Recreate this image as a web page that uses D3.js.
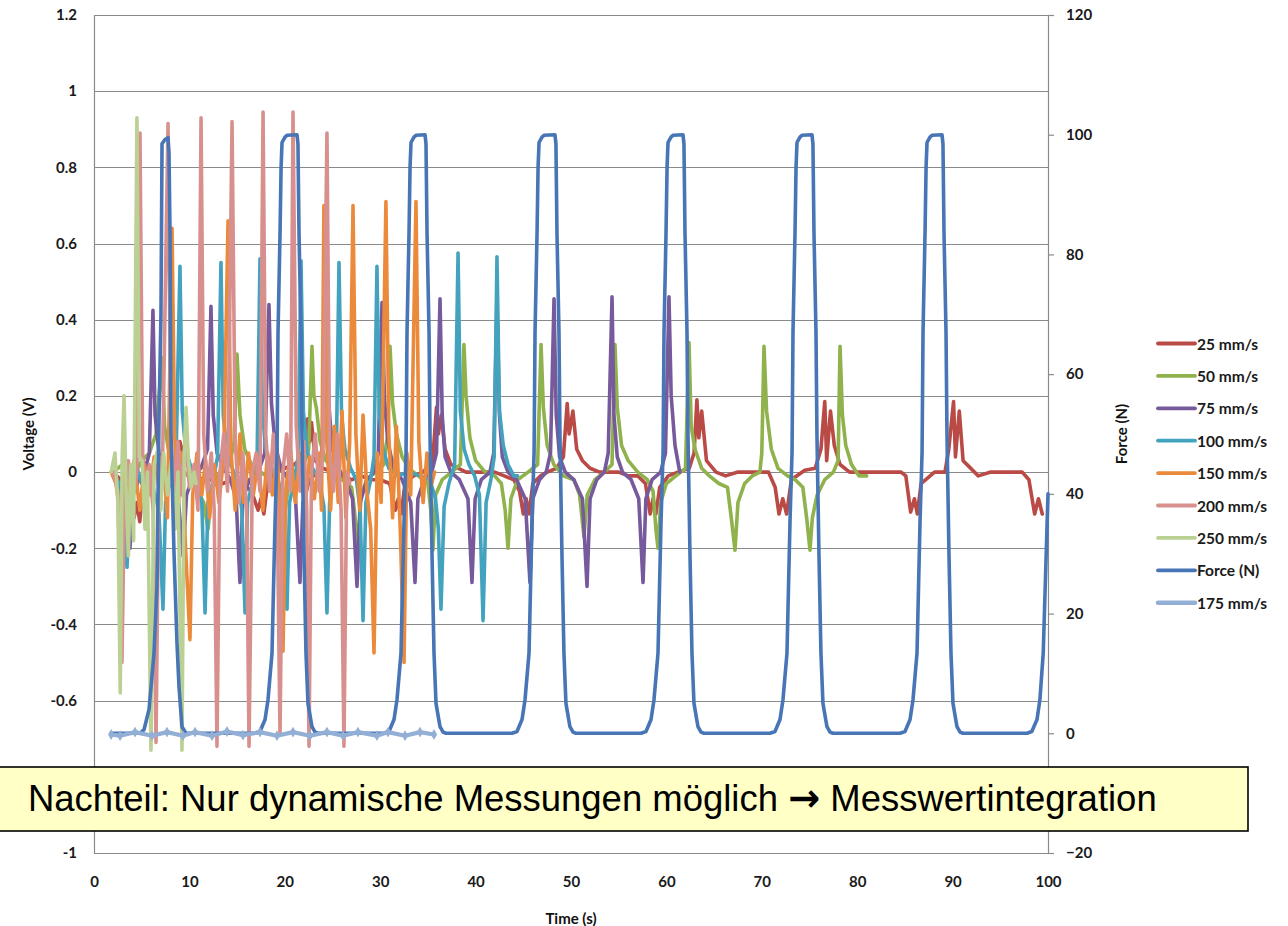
<!DOCTYPE html>
<html>
<head>
<meta charset="utf-8">
<script src="https://cdn.jsdelivr.net/npm/d3@7"></script>
<style>
  html, body { margin: 0; padding: 0; background: #ffffff; }
  svg { display: block; }
</style>
</head>
<body>
<svg id="chart" width="1288" height="926"></svg>
<script>
// ---------------- DATA ----------------
const voltTicks = [-1, -0.8, -0.6, -0.4, -0.2, 0, 0.2, 0.4, 0.6, 0.8, 1, 1.2];
const hiddenVoltLabels = [-0.8]; // covered by the annotation box in the original
const forceTicks = [-20, 0, 20, 40, 60, 80, 100, 120];
const timeTicks = [0, 10, 20, 30, 40, 50, 60, 70, 80, 90, 100];

const seriesNames = ["25 mm/s", "50 mm/s", "75 mm/s", "100 mm/s", "150 mm/s", "200 mm/s", "250 mm/s", "Force (N)", "175 mm/s"];

// [time (s), voltage (V)]
const s25 = [[2.0,0],[2.8,-0.02],[3.5,-0.05],[4.2,-0.12],[4.5,-0.08],[4.8,-0.13],[5.2,-0.02],[6,0],[7,0.02],[8,-0.02],[8.6,0.03],[9.0,0.08],[9.3,0.05],[9.8,0.02],[10.5,-0.01],[11.5,-0.02],[12.5,-0.02],[13.5,-0.03],[14.5,-0.02],[15.5,-0.03],[16.5,-0.05],[17.2,-0.1],[17.5,-0.07],[17.8,-0.11],[18.2,-0.03],[19,0],[20,0.01],[21,0.02],[22,0.04],[22.4,0.14],[22.6,0.08],[22.8,0.13],[23.2,0.03],[24,0.01],[25,0],[26,-0.01],[27,-0.02],[28,-0.01],[29,-0.02],[30,-0.02],[31,-0.03],[31.6,-0.1],[31.9,-0.07],[32.2,-0.11],[32.6,-0.03],[33.5,-0.01],[34.5,0],[35.5,0.03],[35.9,0.17],[36.1,0.10],[36.4,0.15],[36.8,0.06],[37.4,0.02],[38.2,0.01],[39,0],[40,0],[41,0],[42,0],[43,-0.01],[44,-0.02],[44.6,-0.05],[45,-0.11],[45.3,-0.07],[45.6,-0.11],[46,-0.03],[46.8,-0.01],[47.5,0],[48.5,0.01],[49.2,0.04],[49.6,0.18],[49.8,0.10],[50.2,0.16],[50.6,0.06],[51.2,0.03],[52,0.01],[53,0],[54,0],[55,0],[56,-0.01],[57,-0.01],[57.8,-0.03],[58.3,-0.11],[58.6,-0.07],[58.9,-0.11],[59.3,-0.04],[60.2,-0.01],[61.2,0],[62.4,0.01],[62.9,0.05],[63.2,0.19],[63.4,0.09],[63.7,0.16],[64.2,0.03],[65.2,0],[66.2,-0.01],[67.5,0],[68.5,0],[69.5,0],[70.7,0],[71.4,-0.04],[71.8,-0.11],[72.2,-0.07],[72.6,-0.11],[73.1,-0.02],[74.5,0.005],[75.6,0.01],[76.2,0.06],[76.6,0.185],[76.8,0.03],[77.2,0.16],[77.6,0.07],[78.2,0.02],[79.2,0],[81,0],[83,0],[84.6,0],[85.1,-0.01],[85.6,-0.105],[86.0,-0.07],[86.3,-0.11],[86.7,-0.03],[88.1,0],[89.2,0],[89.6,0.06],[90.1,0.185],[90.3,0.04],[90.7,0.16],[91.1,0.03],[91.7,0.015],[92.7,-0.01],[94,0],[96,0],[97.3,0],[98,-0.02],[98.6,-0.11],[99.0,-0.07],[99.4,-0.11]];

const s50 = [[2,0],[3,0.02],[4,-0.02],[5,0.03],[5.8,0.05],[6.5,0.1],[7.13,0.30],[7.4,0.12],[7.8,0.06],[8.5,0.02],[9.5,0],[10.5,-0.03],[11.5,-0.08],[11.95,-0.15],[12.4,-0.04],[13.2,0],[14.2,0.02],[14.7,0.08],[14.99,0.31],[15.3,0.15],[15.8,0.06],[16.5,0.02],[17.5,0],[18.5,-0.02],[19.3,-0.06],[19.8,-0.15],[20.3,-0.05],[21,0],[22,0.02],[22.5,0.06],[22.85,0.33],[23.05,0.2],[23.3,0.17],[23.7,0.08],[24.3,0.03],[25,0.01],[26,-0.02],[27,-0.04],[27.3,-0.1],[27.67,-0.2],[28,-0.06],[28.6,-0.02],[29.5,0],[30.4,0.02],[30.8,0.1],[31.03,0.33],[31.3,0.18],[31.7,0.1],[32.3,0.04],[33,0.01],[34,-0.01],[35,-0.03],[35.3,-0.1],[35.53,-0.205],[35.8,-0.06],[36.5,-0.02],[37.5,0],[38.4,0.02],[38.78,0.335],[39.0,0.2],[39.4,0.09],[40,0.03],[41,0],[42,-0.01],[42.7,-0.03],[43.1,-0.1],[43.4,-0.2],[43.7,-0.07],[44.4,-0.02],[45.5,0],[46.5,0.02],[46.86,0.335],[47.1,0.17],[47.5,0.07],[48.2,0.02],[49.2,-0.01],[50.3,-0.02],[50.9,-0.06],[51.36,-0.17],[51.7,-0.06],[52.5,-0.02],[53.5,0],[54.3,0.02],[54.61,0.335],[54.85,0.17],[55.3,0.07],[56,0.03],[57,0],[58,-0.02],[58.6,-0.05],[58.9,-0.15],[59.12,-0.2],[59.4,-0.08],[60,-0.03],[61,-0.01],[62,0.01],[62.37,0.34],[62.6,0.12],[63,0.06],[63.7,0.01],[64.5,-0.01],[65.5,-0.03],[66.4,-0.04],[66.8,-0.12],[67.19,-0.205],[67.5,-0.08],[68.2,-0.03],[69,-0.01],[69.8,0],[70.0,0.05],[70.23,0.33],[70.5,0.16],[71,0.06],[71.7,0.01],[72.7,-0.01],[73.5,-0.02],[74.3,-0.04],[74.7,-0.12],[75.05,-0.205],[75.3,-0.12],[75.8,-0.06],[76.6,-0.02],[77.5,0],[78.0,0.03],[78.2,0.33],[78.45,0.15],[78.8,0.07],[79.4,0.02],[80.2,-0.01],[81,-0.01]];

const s75 = [[2.0,0],[2.6,-0.04],[3.2,-0.06],[3.77,-0.2],[4.1,-0.06],[4.7,-0.02],[5.3,0],[5.8,0.05],[6.18,0.425],[6.4,0.15],[6.8,0.05],[7.4,0.01],[8.2,-0.02],[8.8,-0.06],[9.33,-0.22],[9.7,-0.06],[10.4,-0.01],[11.2,0.01],[11.9,0.06],[12.26,0.435],[12.5,0.15],[12.9,0.05],[13.6,0.01],[14.3,-0.02],[14.9,-0.07],[15.3,-0.29],[15.6,-0.07],[16.3,-0.02],[17.2,0],[17.9,0.05],[18.34,0.44],[18.6,0.18],[19,0.07],[19.6,0.01],[20.4,-0.02],[21.1,-0.06],[21.59,-0.29],[21.9,-0.08],[22.6,-0.02],[23.4,0],[23.9,0.05],[24.32,0.44],[24.6,0.18],[25,0.06],[25.6,0.01],[26.4,-0.02],[27.1,-0.07],[27.57,-0.3],[27.9,-0.08],[28.6,-0.02],[29.4,0],[29.8,0.05],[30.19,0.445],[30.45,0.19],[30.8,0.08],[31.4,0.01],[32.3,-0.02],[33.2,-0.08],[33.65,-0.29],[33.95,-0.07],[34.6,-0.02],[35.4,0],[35.9,0.05],[36.27,0.455],[36.5,0.15],[36.8,0.04],[37.4,0.0],[38.3,-0.02],[39.2,-0.07],[39.62,-0.29],[39.95,-0.07],[40.6,-0.02],[41.5,0],[41.9,0.05],[42.24,0.45],[42.5,0.15],[42.8,0.04],[43.4,0.0],[44.3,-0.02],[45.2,-0.07],[45.7,-0.29],[46,-0.07],[46.7,-0.02],[47.4,0],[47.85,0.05],[48.22,0.455],[48.45,0.15],[48.8,0.04],[49.4,0.0],[50.3,-0.02],[51.2,-0.07],[51.68,-0.3],[52,-0.07],[52.7,-0.02],[53.5,0],[53.9,0.05],[54.3,0.46],[54.5,0.15],[54.85,0.04],[55.4,0.0],[56.3,-0.02],[57.1,-0.07],[57.55,-0.29],[57.85,-0.07],[58.5,-0.02],[59.4,0],[59.9,0.05],[60.27,0.46],[60.5,0.2],[60.9,0.07],[61.4,0.0]];

const s100 = [[2.0,0],[2.6,-0.03],[3.0,-0.08],[3.46,-0.25],[3.8,-0.05],[4.4,0.02],[5.0,-0.03],[5.6,0.0],[6.2,-0.04],[6.8,-0.1],[7.23,-0.36],[7.5,-0.08],[8.0,-0.02],[8.6,0.03],[9.01,0.54],[9.25,0.16],[9.6,0.06],[10.2,0.01],[10.8,-0.02],[11.3,-0.08],[11.64,-0.37],[11.95,-0.08],[12.5,-0.02],[12.95,0.04],[13.31,0.55],[13.55,0.15],[13.9,0.06],[14.5,0.01],[15.1,-0.03],[15.5,-0.1],[15.83,-0.37],[16.1,-0.08],[16.7,-0.02],[17.1,0.04],[17.4,0.56],[17.65,0.16],[18.0,0.06],[18.6,0.01],[19.3,-0.02],[19.9,-0.09],[20.23,-0.36],[20.5,-0.08],[21.0,-0.02],[21.4,0.04],[21.7,0.555],[21.95,0.16],[22.3,0.06],[22.9,0.01],[23.6,-0.02],[24.1,-0.09],[24.42,-0.37],[24.7,-0.08],[25.1,-0.02],[25.4,0.04],[25.68,0.55],[25.95,0.15],[26.3,0.06],[26.9,0.01],[27.5,-0.02],[27.9,-0.1],[28.2,-0.39],[28.5,-0.08],[29.0,-0.02],[29.35,0.04],[29.66,0.54],[29.9,0.16],[30.3,0.06],[30.9,0.01],[31.8,-0.01],[33.0,0],[34.2,-0.01],[35.2,-0.02],[35.8,-0.07],[36.1,-0.15],[36.37,-0.36],[36.7,-0.09],[37.2,-0.03],[37.8,0.02],[38.16,0.575],[38.4,0.16],[38.8,0.06],[39.3,0.02],[39.9,-0.01],[40.4,-0.06],[40.78,-0.39],[41.1,-0.08],[41.6,-0.02],[41.95,0.04],[42.24,0.565],[42.5,0.16],[42.9,0.07],[43.4,0.02],[44.0,-0.01],[44.4,-0.01]];

const s150 = [[1.8,0],[2.3,-0.03],[2.8,-0.12],[3.2,0.02],[3.7,-0.06],[4.2,0.03],[4.8,-0.1],[5.3,0.02],[5.8,-0.06],[6.3,0.04],[6.8,-0.04],[7.3,0.02],[7.7,-0.12],[8.18,0.64],[8.45,0.1],[8.8,-0.1],[9.2,0.05],[9.6,-0.2],[10.06,-0.44],[10.35,-0.06],[10.8,0.05],[11.3,-0.06],[11.7,0.03],[12.1,-0.12],[12.6,0.02],[13.1,-0.08],[13.6,0.04],[14.05,0.66],[14.35,0.06],[14.8,-0.1],[15.3,0.1],[15.7,-0.08],[16.2,0.05],[16.7,-0.06],[17.2,0.03],[17.7,-0.1],[18.2,0.05],[18.7,-0.06],[19.2,0.06],[19.5,-0.12],[19.81,-0.47],[20.1,-0.05],[20.6,0.06],[21.1,-0.08],[21.6,0.05],[22.1,-0.1],[22.6,0.04],[23.1,-0.07],[23.6,0.05],[23.85,-0.1],[24.1,0.70],[24.4,0.08],[24.8,-0.1],[25.2,0.12],[25.6,-0.08],[26.0,0.16],[26.4,-0.12],[26.8,0.08],[27.15,0.70],[27.45,0.1],[27.85,-0.1],[28.2,0.15],[28.6,-0.05],[29.0,-0.15],[29.35,-0.475],[29.7,0.05],[30.1,-0.08],[30.6,0.71],[30.9,0.1],[31.3,-0.12],[31.7,0.12],[32.1,-0.15],[32.5,-0.50],[32.8,0.05],[33.2,-0.06],[33.75,0.71],[34.05,0.08],[34.5,-0.08],[34.9,0.05],[35.3,-0.04],[35.7,0.0]];

const s200 = [[2.0,0],[2.5,-0.05],[2.93,-0.5],[3.2,-0.05],[3.6,0.03],[4.0,-0.08],[4.5,0.0],[4.82,0.89],[5.1,0.05],[5.4,-0.08],[5.8,0.02],[6.2,-0.1],[6.5,-0.71],[6.8,0.0],[7.2,0.05],[7.76,0.915],[8.05,0.1],[8.4,-0.05],[8.8,0.08],[9.2,-0.06],[9.6,0.1],[10.0,-0.04],[10.5,0.02],[10.9,-0.1],[11.22,0.93],[11.5,0.1],[11.9,-0.05],[12.3,0.05],[12.6,-0.1],[12.89,-0.72],[13.2,0.0],[13.6,0.1],[14.0,-0.05],[14.47,0.92],[14.8,0.08],[15.2,-0.08],[15.6,0.05],[16.0,-0.1],[16.25,-0.72],[16.6,0.0],[17.0,0.05],[17.4,-0.05],[17.72,0.945],[18.0,0.1],[18.4,-0.05],[18.8,0.1],[19.2,-0.08],[19.5,-0.69],[19.8,0.0],[20.2,0.1],[20.6,-0.05],[20.86,0.945],[21.2,0.12],[21.6,-0.05],[22.0,0.08],[22.3,-0.1],[22.54,-0.72],[22.8,0.0],[23.2,0.1],[23.6,-0.05],[24.0,0.05],[24.42,0.89],[24.7,0.05],[25.1,-0.05],[25.5,0.1],[25.9,-0.1],[26.2,-0.72],[26.5,0.0],[26.8,-0.03]];

const s250 = [[1.8,0],[2.2,0.05],[2.5,-0.08],[2.75,-0.58],[2.95,0.04],[3.15,0.2],[3.35,-0.04],[3.6,-0.22],[3.85,0.02],[4.15,-0.18],[4.5,0.93],[4.75,0.04],[5.05,0.03],[5.35,-0.15],[5.6,0.0],[5.97,-0.73],[6.3,0.02],[6.7,0.06],[7.0,-0.1],[7.3,0.05],[7.7,-0.06],[8.1,0.03],[8.5,-0.15],[8.8,0.0],[9.22,-0.73],[9.45,0.04],[9.65,0.17],[9.9,0.03],[10.2,-0.04],[10.5,0.0],[10.7,-0.03]];

// [time (s), force (N)]
const force = [[1.8,0],[4.82,0],[5.24,0.6],[5.77,4],[6.29,13.4],[6.6,24.5],[6.81,52],[7.02,70],[7.13,98.5],[7.44,99.2],[7.76,99.5],[7.86,97],[7.97,83.5],[8.07,50],[8.39,30],[8.7,15],[8.91,7.8],[9.22,1.1],[9.64,0],
[16.88,0],[17.40,0.3],[17.93,2.3],[18.24,5.6],[18.66,13.4],[18.82,24.5],[18.98,35.6],[19.19,47],[19.29,67],[19.50,83.5],[19.61,94.6],[19.71,98.7],[20.02,99.6],[20.23,99.9],[21.28,100],[21.38,98.5],[21.49,83.5],[21.70,67],[21.80,50],[22.01,30],[22.22,13.4],[22.43,5],[22.85,1.1],[23.17,0.2],[23.48,0],
[30.40,0],[30.92,0.3],[31.45,2.3],[31.76,5.6],[32.18,13.4],[32.34,24.5],[32.50,35.6],[32.71,47],[32.81,67],[33.02,83.5],[33.13,94.6],[33.23,98.7],[33.54,99.6],[33.75,99.9],[34.70,100],[34.80,98.5],[34.91,83.5],[35.12,67],[35.22,50],[35.43,30],[35.64,13.4],[35.85,5],[36.27,1.1],[36.59,0.2],[36.90,0],
[43.82,0],[44.34,0.3],[44.87,2.3],[45.18,5.6],[45.60,13.4],[45.76,24.5],[45.92,35.6],[46.13,47],[46.23,67],[46.44,83.5],[46.55,94.6],[46.65,98.7],[46.96,99.6],[47.17,99.9],[48.32,100],[48.42,98.5],[48.53,83.5],[48.74,67],[48.84,50],[49.05,30],[49.26,13.4],[49.47,5],[49.89,1.1],[50.21,0.2],[50.52,0],
[57.34,0],[57.86,0.3],[58.39,2.3],[58.70,5.6],[59.12,13.4],[59.28,24.5],[59.44,35.6],[59.65,47],[59.75,67],[59.96,83.5],[60.07,94.6],[60.17,98.7],[60.48,99.6],[60.69,99.9],[61.74,100],[61.84,98.5],[61.95,83.5],[62.16,67],[62.26,50],[62.47,30],[62.68,13.4],[62.89,5],[63.31,1.1],[63.63,0.2],[63.94,0],
[70.86,0],[71.38,0.3],[71.91,2.3],[72.22,5.6],[72.64,13.4],[72.80,24.5],[72.96,35.6],[73.17,47],[73.27,67],[73.48,83.5],[73.59,94.6],[73.69,98.7],[74.00,99.6],[74.21,99.9],[75.26,100],[75.36,98.5],[75.47,83.5],[75.68,67],[75.78,50],[75.99,30],[76.20,13.4],[76.41,5],[76.83,1.1],[77.15,0.2],[77.46,0],
[84.49,0],[85.01,0.3],[85.54,2.3],[85.85,5.6],[86.27,13.4],[86.43,24.5],[86.59,35.6],[86.80,47],[86.90,67],[87.11,83.5],[87.22,94.6],[87.32,98.7],[87.63,99.6],[87.84,99.9],[88.89,100],[88.99,98.5],[89.10,83.5],[89.31,67],[89.41,50],[89.62,30],[89.83,13.4],[90.04,5],[90.46,1.1],[90.78,0.2],[91.09,0],
[97.8,0],[98.3,0.3],[98.85,2.3],[99.15,5.6],[99.5,13.4],[100,40]];

const s175 = [[1.8,-0.2],[2.73,-0.4],[4.3,0.2],[6.08,-0.4],[7.65,0.2],[9.33,-0.4],[10.59,0.2],[12.37,-0.4],[13.94,0.3],[15.62,-0.3],[17.4,0.2],[19.18,-0.4],[20.86,0.2],[22.64,-0.4],[24.42,0.2],[26.1,-0.4],[27.67,0.2],[29.66,-0.4],[30.82,0.2],[32.6,-0.4],[34.17,0.2],[35.64,-0.2]];

const annotationParts = ["Nachteil: Nur dynamische Messungen möglich ", "\u2192", " Messwertintegration"];

// ---------------- STYLE ----------------
const colors = {
  "25 mm/s": "#BA4A46", "50 mm/s": "#8FB24D", "75 mm/s": "#765A9C", "100 mm/s": "#43A3BF",
  "150 mm/s": "#EC8A3C", "200 mm/s": "#D7908D", "250 mm/s": "#BBD193", "Force (N)": "#4775B5",
  "175 mm/s": "#93AFD5"
};
const FONT = "Lato, 'Open Sans', sans-serif";

// ---------------- CHART ----------------
const svg = d3.select("#chart");
const plot = { left: 94, right: 1048, top: 15, bottom: 853 };

const x = d3.scaleLinear().domain([0, 100]).range([plot.left, plot.right]);
const yV = d3.scaleLinear().domain([-1, 1.2]).range([plot.bottom, plot.top]);
const yF = d3.scaleLinear().domain([-20, 120]).range([plot.bottom, plot.top]);

const gridColor = "#8a8a8a";

// horizontal gridlines
svg.append("g").selectAll("line").data(voltTicks).join("line")
  .attr("x1", plot.left).attr("x2", plot.right)
  .attr("y1", d => Math.round(yV(d)) + 0.5).attr("y2", d => Math.round(yV(d)) + 0.5)
  .attr("stroke", gridColor).attr("stroke-width", 1.2);

// left axis
const fmt = d => hiddenVoltLabels.includes(d) ? "" : String(+d.toFixed(1));
const gL = svg.append("g").attr("transform", `translate(${plot.left},0)`)
  .call(d3.axisLeft(yV).tickValues(voltTicks).tickFormat(fmt).tickSize(0).tickPadding(17));
gL.select(".domain").attr("stroke", gridColor).attr("stroke-width", 1.2);
gL.selectAll("text").attr("font-family", FONT).attr("font-size", 15).attr("font-weight", "bold").attr("fill", "#1a1a1a");

// right axis
const gR = svg.append("g").attr("transform", `translate(${plot.right},0)`)
  .call(d3.axisRight(yF).tickValues(forceTicks).tickSize(6).tickPadding(12).tickSizeOuter(0));
gR.select(".domain").attr("stroke", gridColor).attr("stroke-width", 1.2);
gR.selectAll("line").attr("stroke", gridColor).attr("stroke-width", 1.2);
gR.selectAll("text").attr("font-family", FONT).attr("font-size", 15).attr("font-weight", "bold").attr("fill", "#1a1a1a");

// bottom axis
const gB = svg.append("g").attr("transform", `translate(0,${plot.bottom})`)
  .call(d3.axisBottom(x).tickValues(timeTicks).tickSize(0).tickPadding(23));
gB.select(".domain").remove();
gB.selectAll("text").attr("font-family", FONT).attr("font-size", 15).attr("font-weight", "bold").attr("fill", "#1a1a1a");

// axis titles
svg.append("text").attr("transform", `translate(28,${(plot.top + plot.bottom) / 2}) rotate(-90)`)
  .attr("text-anchor", "middle").attr("dominant-baseline", "central")
  .attr("font-family", FONT).attr("font-weight", "bold").attr("font-size", 15).attr("fill", "#111").text("Voltage (V)");
svg.append("text").attr("transform", `translate(1121,${(plot.top + plot.bottom) / 2}) rotate(-90)`)
  .attr("text-anchor", "middle").attr("dominant-baseline", "central")
  .attr("font-family", FONT).attr("font-weight", "bold").attr("font-size", 15).attr("fill", "#111").text("Force (N)");
svg.append("text").attr("x", (plot.left + plot.right) / 2).attr("y", 918)
  .attr("text-anchor", "middle").attr("dominant-baseline", "central")
  .attr("font-family", FONT).attr("font-weight", "bold").attr("font-size", 15).attr("fill", "#111").text("Time (s)");

// series
const lineV = d3.line().x(d => x(d[0])).y(d => yV(d[1]));
const lineF = d3.line().x(d => x(d[0])).y(d => yF(d[1]));

const series = [
  { name: "25 mm/s", data: s25, axis: "V" },
  { name: "50 mm/s", data: s50, axis: "V" },
  { name: "75 mm/s", data: s75, axis: "V" },
  { name: "100 mm/s", data: s100, axis: "V" },
  { name: "150 mm/s", data: s150, axis: "V" },
  { name: "200 mm/s", data: s200, axis: "V" },
  { name: "250 mm/s", data: s250, axis: "V" },
  { name: "Force (N)", data: force, axis: "F" },
  { name: "175 mm/s", data: s175, axis: "F" }
];

const gS = svg.append("g");
series.forEach(s => {
  gS.append("path").datum(s.data)
    .attr("d", s.axis === "V" ? lineV : lineF)
    .attr("fill", "none").attr("stroke", colors[s.name])
    .attr("stroke-width", s.name === "175 mm/s" ? 4.2 : 3.6)
    .attr("stroke-linejoin", "round").attr("stroke-linecap", "round");
});
// markers for 175 mm/s
gS.append("g").selectAll("path").data(s175).join("path")
  .attr("transform", d => `translate(${x(d[0])},${yF(d[1])})`)
  .attr("d", d3.symbol().type(d3.symbolDiamond).size(34))
  .attr("fill", colors["175 mm/s"]);

// legend
const legend = svg.append("g");
seriesNames.forEach((name, i) => {
  const yy = 343.5 + i * 32.4;
  legend.append("line").attr("x1", 1158).attr("x2", 1195).attr("y1", yy).attr("y2", yy)
    .attr("stroke", colors[name]).attr("stroke-width", name === "175 mm/s" ? 4.5 : 3.8)
    .attr("stroke-linecap", "round");
  legend.append("text").attr("x", 1197).attr("y", yy).attr("dominant-baseline", "central")
    .attr("font-family", FONT).attr("font-size", 15.5).attr("font-weight", "bold").attr("fill", "#1a1a1a").text(name);
});

// annotation box
const box = svg.append("g");
box.append("rect").attr("x", -1).attr("y", 767).attr("width", 1249).attr("height", 64)
  .attr("fill", "#FFFFC6").attr("stroke", "#000").attr("stroke-width", 1.6);
const t = box.append("text").attr("x", 28).attr("y", 811)
  .attr("font-family", "'Liberation Sans', Arial, sans-serif").attr("font-size", 29).attr("fill", "#000");
t.append("tspan").text(annotationParts[0]);
t.append("tspan").attr("font-family", "'DejaVu Sans', sans-serif").attr("font-weight", "bold").attr("font-size", "1.05em").text(annotationParts[1]);
t.append("tspan").text(annotationParts[2]);
const w = t.node().getComputedTextLength();
t.attr("font-size", 29 * 1129 / w);
</script>
</body>
</html>
